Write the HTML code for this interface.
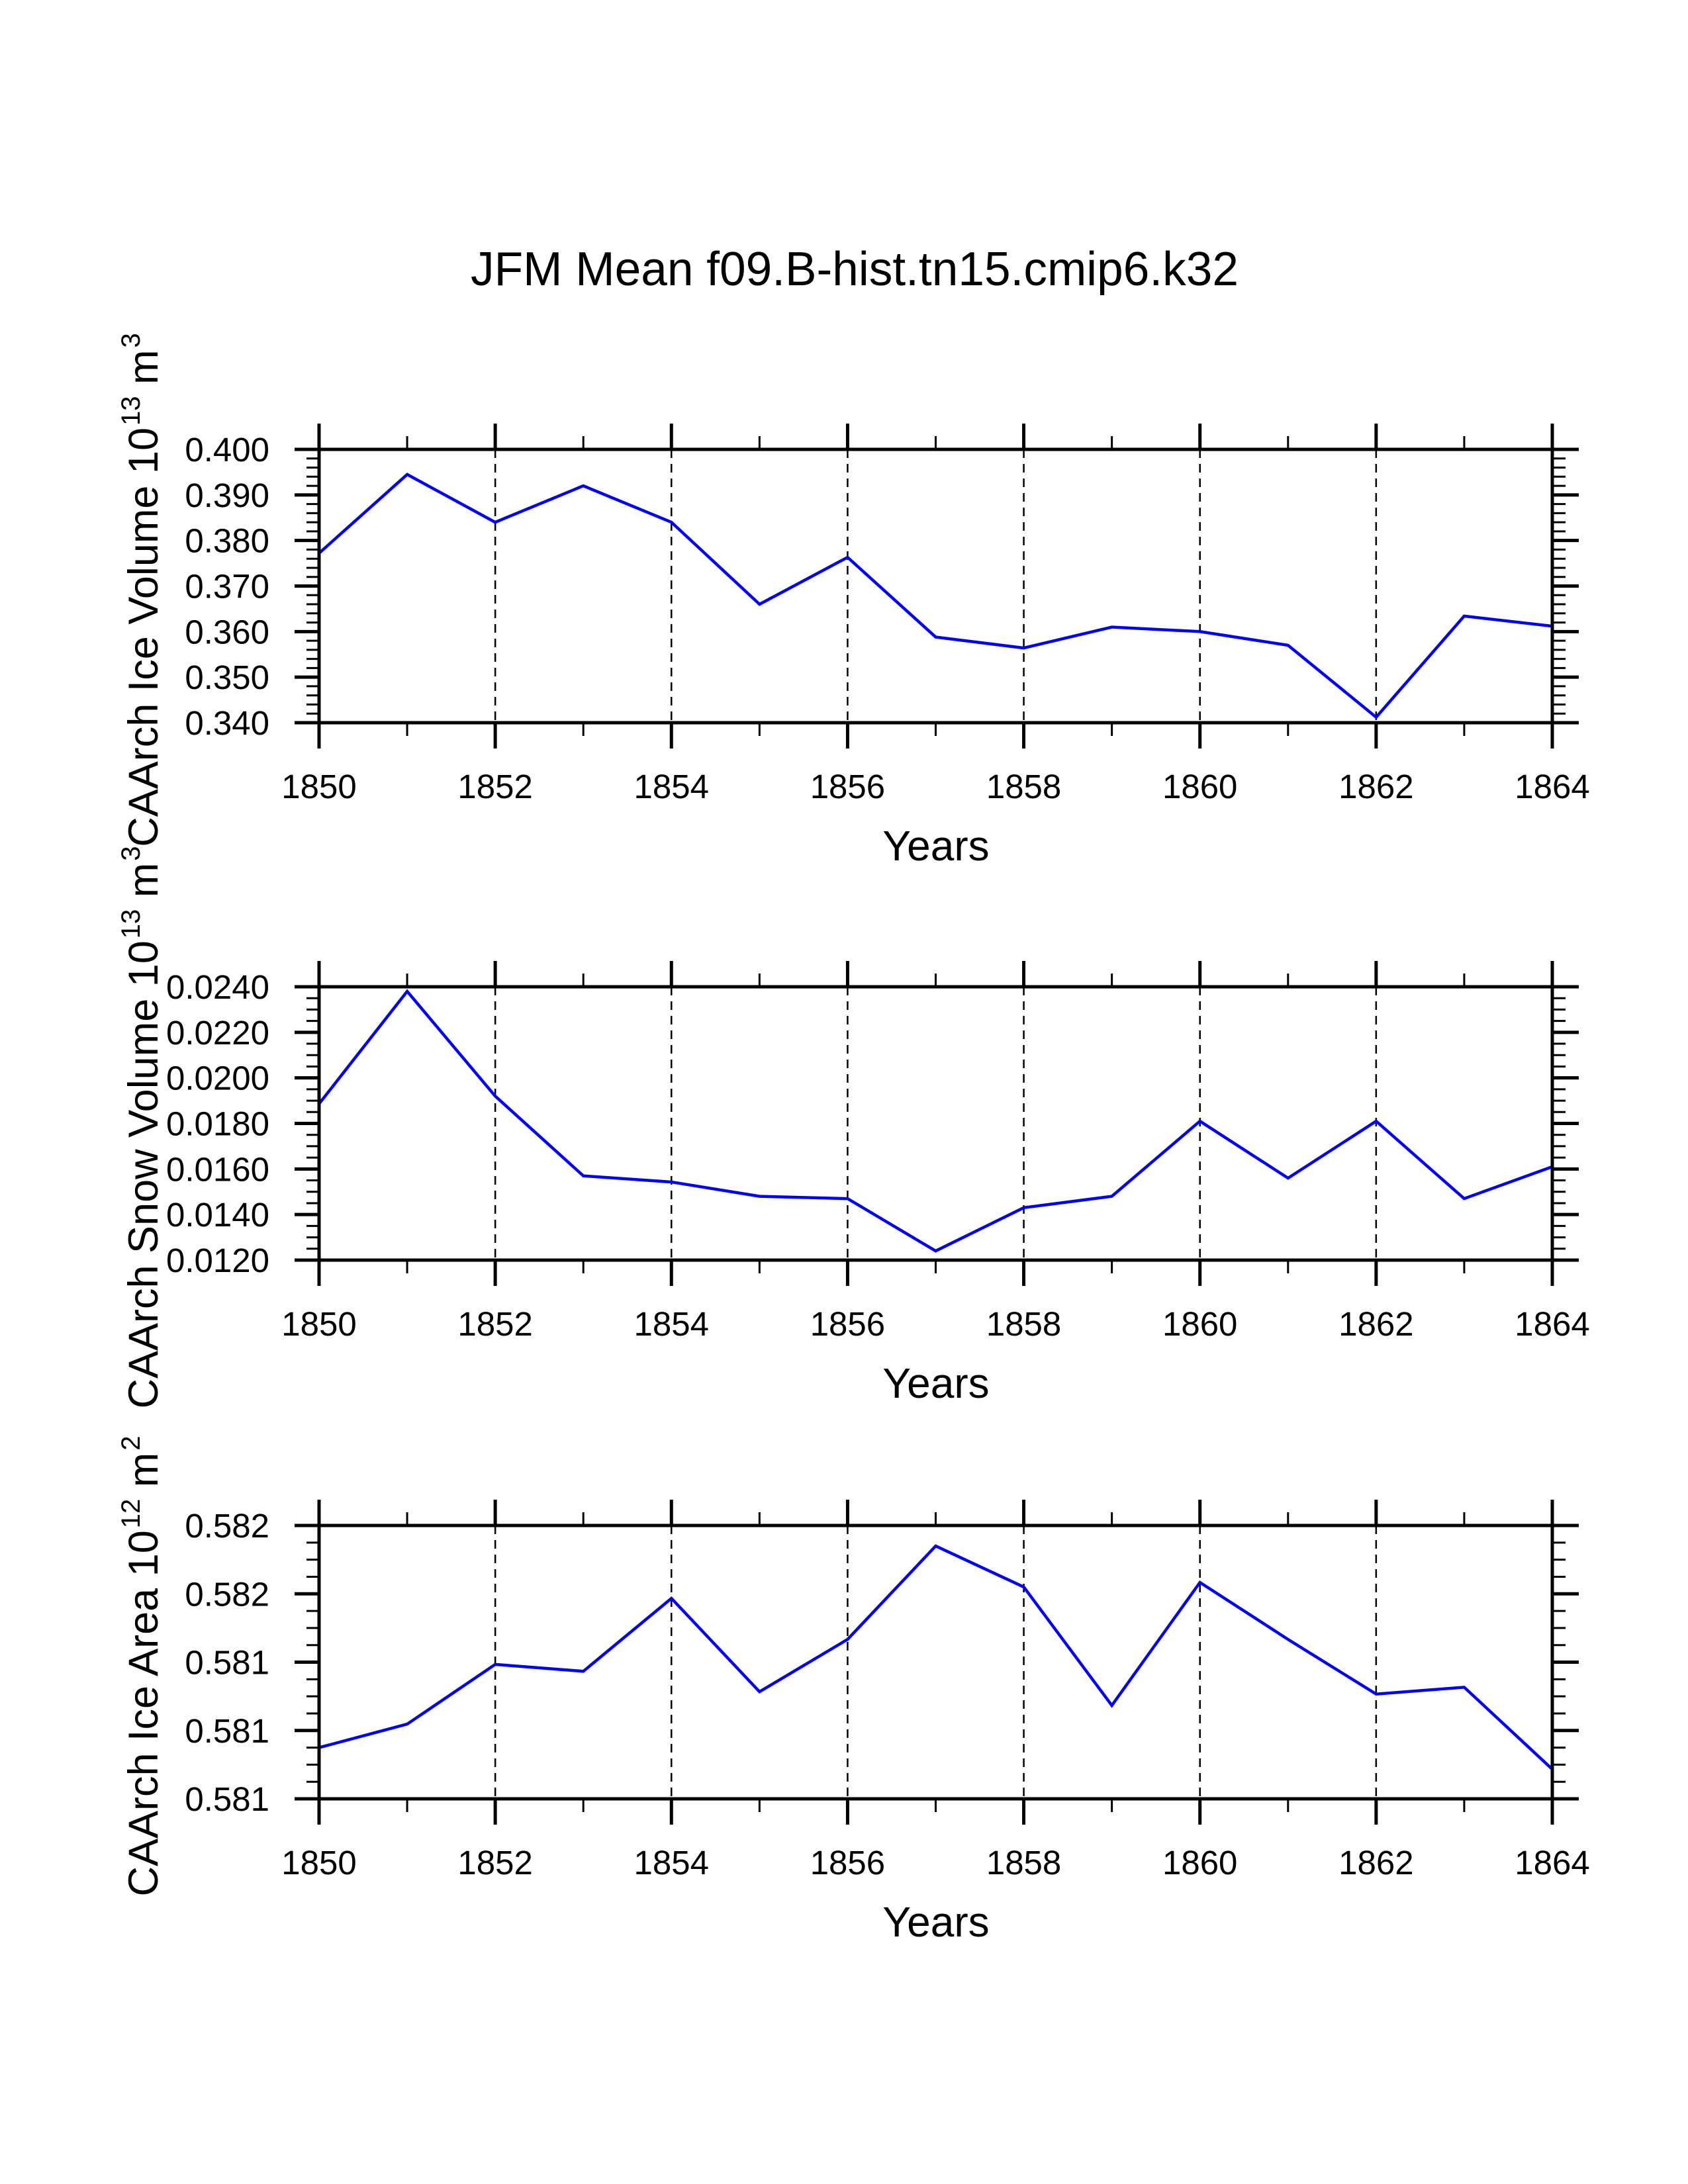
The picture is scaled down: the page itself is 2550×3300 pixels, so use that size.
<!DOCTYPE html>
<html><head><meta charset="utf-8"><style>
html,body{margin:0;padding:0;background:#fff;}
svg{display:block;font-family:"Liberation Sans",Arial,sans-serif;}
</style></head><body>
<svg id="chart" width="2550" height="3300" viewBox="0 0 2550 3300" xmlns="http://www.w3.org/2000/svg">
<rect width="2550" height="3300" fill="#fff"/>
<text x="711" y="431" font-size="72" textLength="1160" lengthAdjust="spacingAndGlyphs">JFM Mean f09.B-hist.tn15.cmip6.k32</text>
<g id="plots"></g>
</svg>
<script>
const years = [1850,1851,1852,1853,1854,1855,1856,1857,1858,1859,1860,1861,1862,1863,1864];
const xTickLabels = ["1850","1852","1854","1856","1858","1860","1862","1864"];
const iceVolume = [0.3772,0.3945,0.3840,0.3920,0.3840,0.3660,0.3763,0.3588,0.3564,0.3610,0.3600,0.3570,0.3412,0.3634,0.3612];
const iceVolumeTicks = [0.340,0.350,0.360,0.370,0.380,0.390,0.400];
const iceVolumeLabels = ["0.340","0.350","0.360","0.370","0.380","0.390","0.400"];
const snowVolume = [0.01886,0.0238,0.0192,0.0157,0.01543,0.0148,0.0147,0.0124,0.0143,0.0148,0.0181,0.0156,0.0181,0.0147,0.0161];
const snowVolumeTicks = [0.0120,0.0140,0.0160,0.0180,0.0200,0.0220,0.0240];
const snowVolumeLabels = ["0.0120","0.0140","0.0160","0.0180","0.0200","0.0220","0.0240"];
const iceArea = [0.581025,0.581128,0.58139,0.58136,0.58168,0.58127,0.5815,0.58191,0.58173,0.58121,0.58175,0.5815,0.58126,0.58129,0.58093];
const iceAreaTicks = [0.5808,0.5811,0.5814,0.5817,0.5820];
const iceAreaLabels = ["0.581","0.581","0.581","0.582","0.582"];

const NS = "http://www.w3.org/2000/svg";
const root = document.getElementById("plots");
const X0 = 482, X1 = 2345, H = 413;
function xScale(yr){ return X0 + (yr - years[0]) / (years[years.length-1] - years[0]) * (X1 - X0); }
function mk(tag, attrs, parent){
  const e = document.createElementNS(NS, tag);
  for (const k in attrs) e.setAttribute(k, attrs[k]);
  (parent || root).appendChild(e);
  return e;
}
function line(x1,y1,x2,y2,w,parent,dash){
  const l = mk("line",{x1:x1,y1:y1,x2:x2,y2:y2,stroke:"#000","stroke-width":w,"stroke-dasharray":dash||"none"},parent);
  return l;
}
function drawPlot(top, values, ticks, labels, minorSub, name, titleMain, sup, unit, usup){
  const g = mk("g",{});
  
  
  const lo = ticks[0], hi = ticks[ticks.length-1];
  const yScale = v => top + H - (v - lo) / (hi - lo) * H;
  const bot = top + H;
  for (let i = 1; i < xTickLabels.length - 1; i++){
    const x = xScale(+xTickLabels[i]);
    const gl = line(x, top, x, bot, 2.5, g, "13,9");
    
    
  }
  years.forEach(yr => {
    const x = xScale(yr);
    const major = xTickLabels.includes(String(yr));
    const L = major ? 39 : 20, w = major ? 5 : 3;
    line(x, top, x, top - L, w, g);
    line(x, bot, x, bot + L, w, g);
  });
  for (let i = 0; i < ticks.length; i++){
    const y = yScale(ticks[i]);
    line(X0, y, X0 - 37, y, 5, g);
    line(X1, y, X1 + 40, y, 5, g);
    const t = mk("text",{x:407,y:y+18,"font-size":51,"text-anchor":"end"},g);
    t.textContent = labels[i];
    
    
    if (i < ticks.length - 1){
      const step = (ticks[i+1]-ticks[i]) / minorSub;
      for (let j = 1; j < minorSub; j++){
        const ym = yScale(ticks[i] + j*step);
        line(X0, ym, X0 - 19, ym, 3, g);
        line(X1, ym, X1 + 20, ym, 3, g);
      }
    }
  }
  xTickLabels.forEach(lb => {
    const t = mk("text",{x:xScale(+lb),y:bot+114,"font-size":51,"text-anchor":"middle"},g);
    t.textContent = lb;
    
    
  });
  const xt = mk("text",{x:1414,y:bot+208,"font-size":64,"text-anchor":"middle"},g);
  xt.textContent = "Years";
  
  
  const cy = top + H/2 + 6;
  const yt = mk("text",{x:0,y:0,"font-size":63,"text-anchor":"middle",transform:`translate(238,${cy}) rotate(-90)`},g);
  
  
  const s1 = mk("tspan",{},yt); s1.textContent = titleMain;
  const s2 = mk("tspan",{"font-size":40,dy:-27,dx:3},yt); s2.textContent = sup;
  const s3 = mk("tspan",{dy:27},yt); s3.textContent = " " + unit;
  const s4 = mk("tspan",{"font-size":40,dy:-27,dx:3},yt); s4.textContent = usup;
  const pts = values.map((v,i) => xScale(years[i]).toFixed(1) + "," + yScale(v).toFixed(1)).join(" ");
  const pl = mk("polyline",{points:pts,fill:"none",stroke:"#0000ff","stroke-width":4.5,"stroke-linejoin":"miter"},g);
  
  
  const fr = mk("rect",{x:X0,y:top,width:X1-X0,height:H,fill:"none",stroke:"#000","stroke-width":5},g);
  
  
}
drawPlot(679, iceVolume, iceVolumeTicks, iceVolumeLabels, 5, "ice-volume", "CAArch Ice Volume 10", "13", "m", "3");
drawPlot(1491, snowVolume, snowVolumeTicks, snowVolumeLabels, 4, "snow-volume", "CAArch Snow Volume 10", "13", "m", "3");
drawPlot(2305, iceArea, iceAreaTicks, iceAreaLabels, 4, "ice-area", "CAArch Ice Area 10", "12", "m", "2");
</script>
</body></html>
